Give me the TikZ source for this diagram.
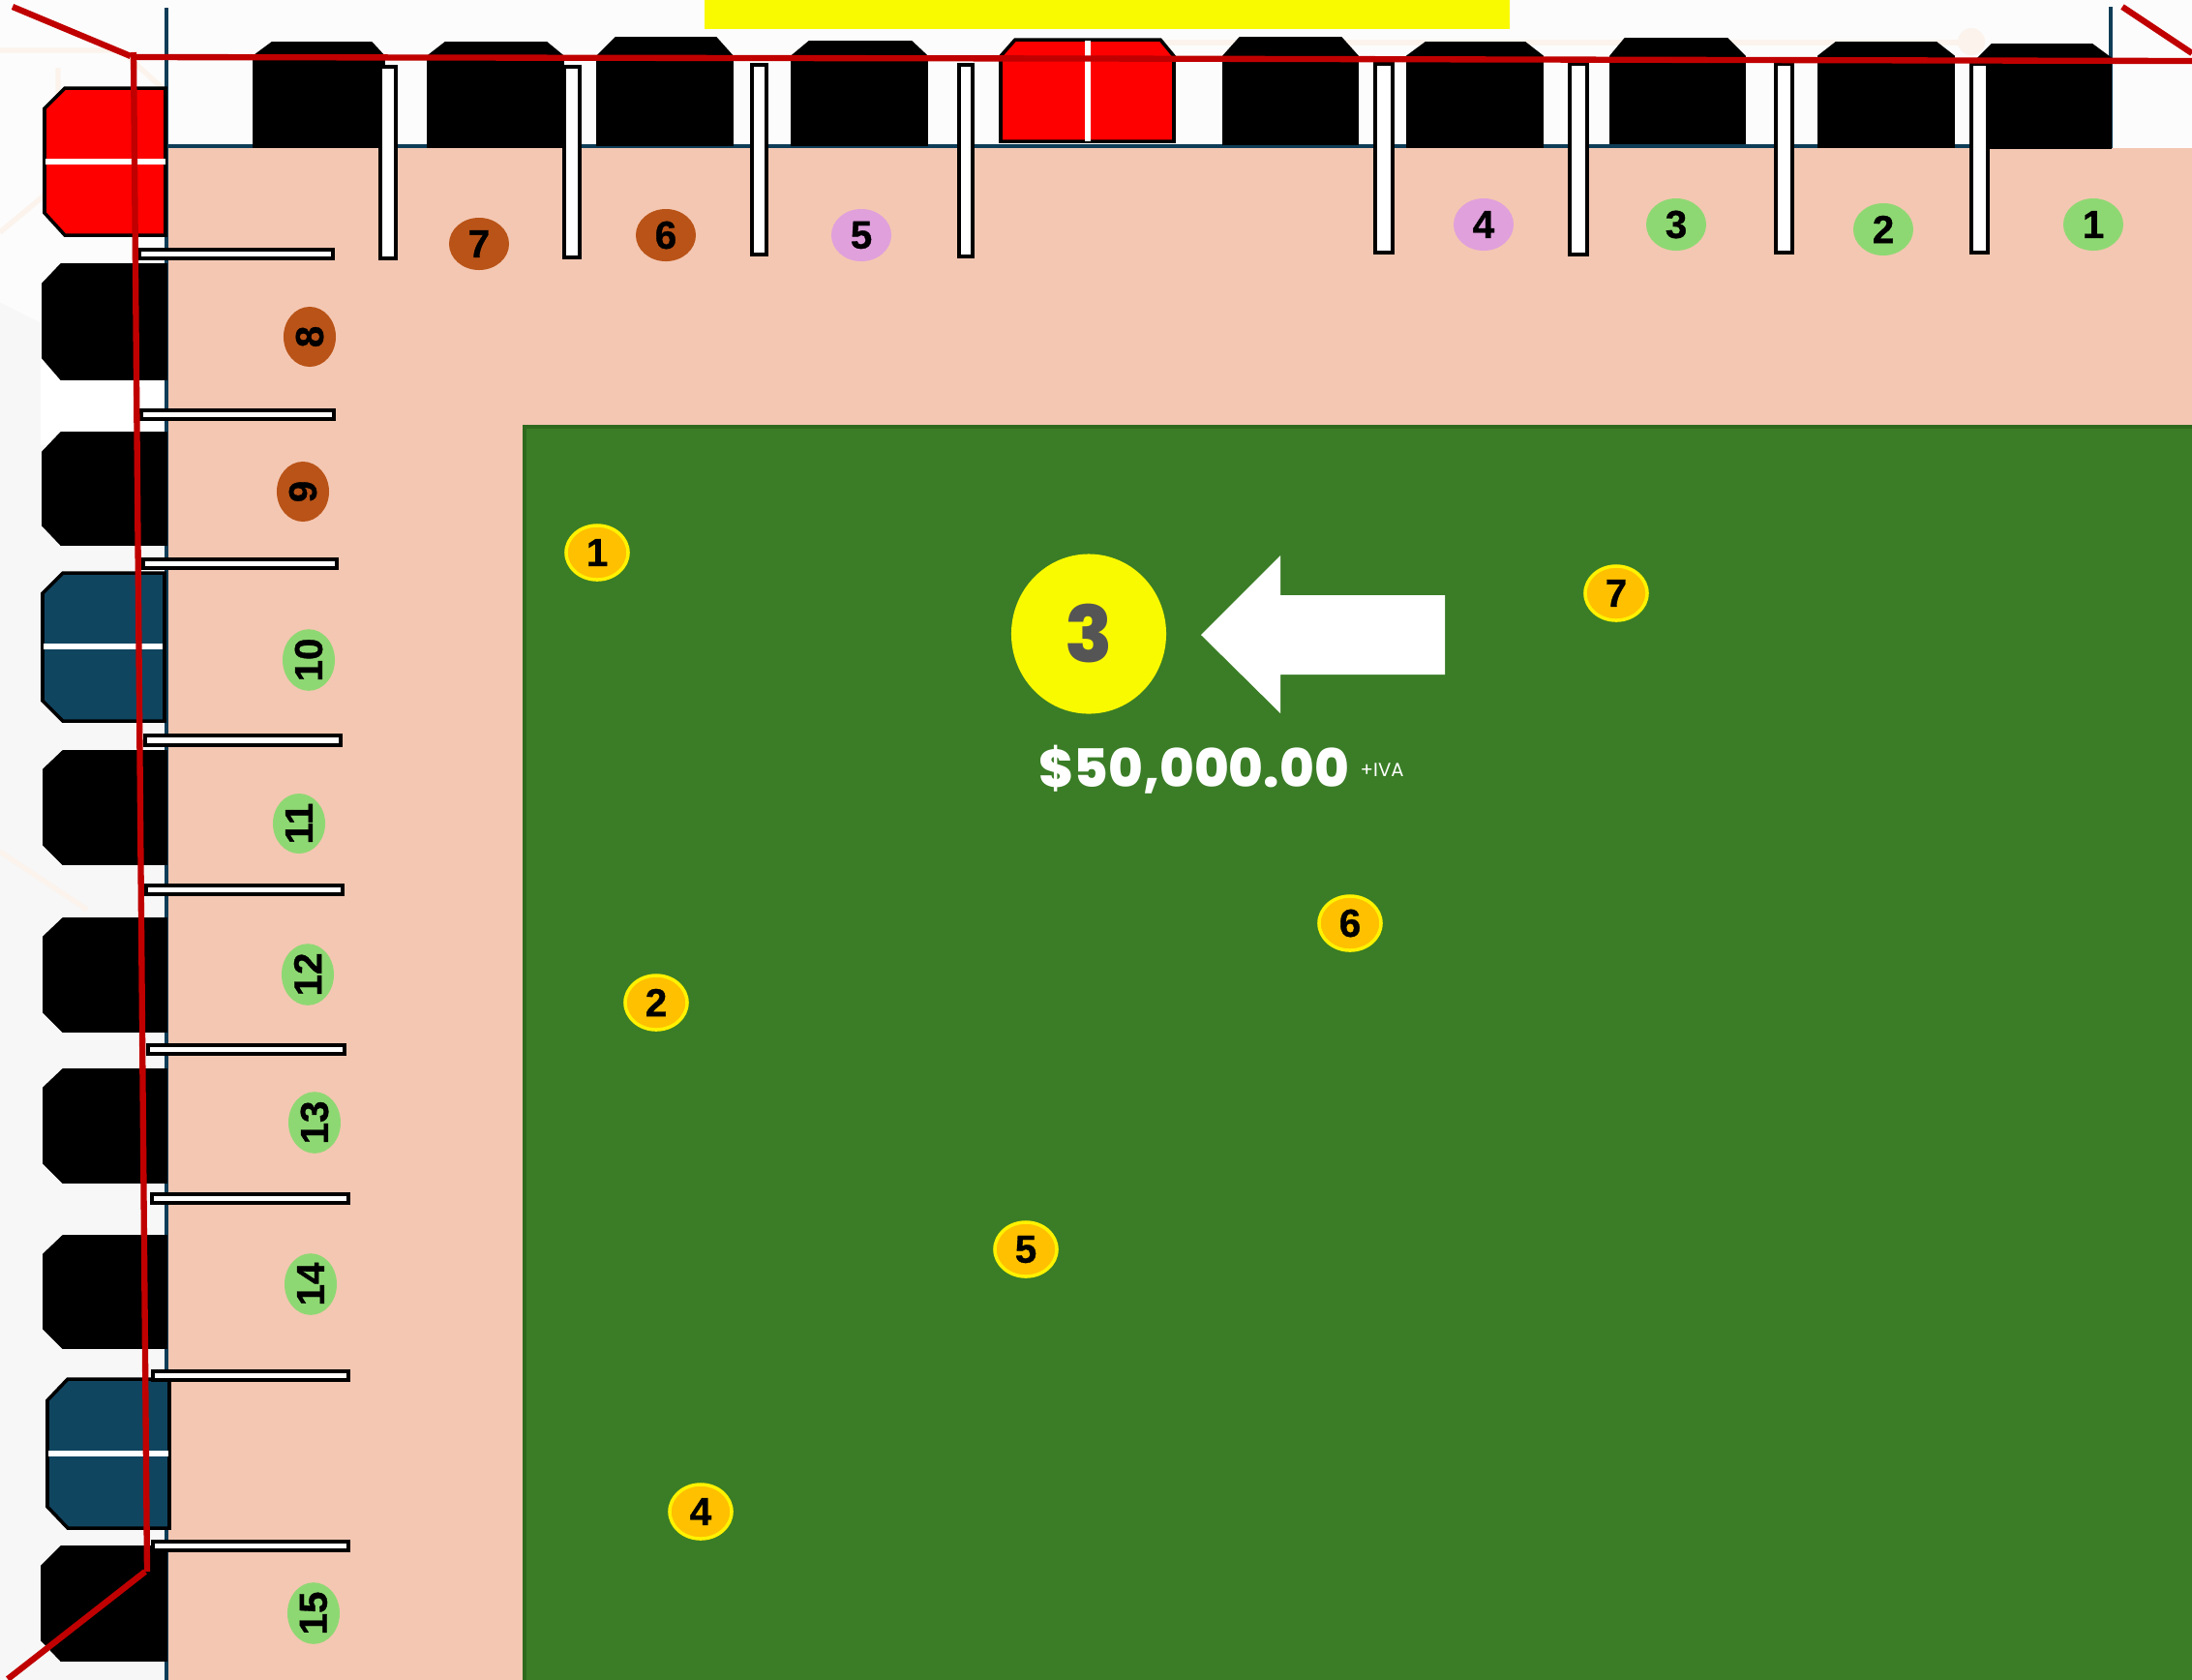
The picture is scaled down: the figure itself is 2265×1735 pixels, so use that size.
\documentclass[tikz,border=0pt]{standalone}
\usepackage{fontspec}
\usepackage{graphicx}
\setmainfont{Liberation Sans}
\newfontfamily\popblack{Poppins ExtraBold}
\newfontfamily\poplight{Poppins}
\newfontfamily\badgefont[BoldFeatures={FakeBold=0.8}]{Liberation Sans}
\usetikzlibrary{shapes.geometric}
\definecolor{pagebg}{HTML}{FCFCFC}
\definecolor{bgshade}{HTML}{F7F7F7}
\definecolor{bgline}{HTML}{FBF3EC}
\definecolor{walk}{HTML}{F4C7B2}
\definecolor{lawn}{HTML}{3A7D26}
\definecolor{lawnedge}{HTML}{2E6A1D}
\definecolor{navy}{HTML}{0F3D57}
\definecolor{navyfill}{HTML}{104560}
\definecolor{redline}{HTML}{C00000}
\definecolor{brownb}{HTML}{B95317}
\definecolor{pinkb}{HTML}{E0A0DC}
\definecolor{greenb}{HTML}{8ED873}
\definecolor{amber}{HTML}{FFC000}
\definecolor{sun}{HTML}{F9F900}
\definecolor{inkgrey}{HTML}{555555}
\tikzset{
  stallblack/.style={fill=black,draw=black,line width=0.5pt,line join=miter},
  stallred/.style={fill=red,draw=black,line width=1pt},
  stallnavy/.style={fill=navyfill,draw=black,line width=1pt},
  divider/.style={fill=white,draw=black,line width=1pt},
  sidedivider/.style={fill=white,draw=black,line width=1.2pt},
  redrun/.style={draw=redline,line width=1.8pt},
  navyrun/.style={draw=navy,line width=0.9pt},
  whitebar/.style={draw=white,line width=1.5pt},
  spotbase/.style={ellipse,inner sep=0pt,text=black,font=\badgefont\bfseries\fontsize{11.5}{12}\selectfont},
  spottop/.style={spotbase,minimum width=0.62cm,minimum height=0.54cm},
  spotside/.style={spotbase,minimum width=0.62cm,minimum height=0.54cm,rotate=90},
  lawnmark/.style={ellipse,inner sep=0pt,minimum width=0.64cm,minimum height=0.56cm,fill=amber,draw=yellow,line width=1pt,text=black,font=\badgefont\bfseries\fontsize{11.5}{12}\selectfont}
}
% stalls with a cut top: style, left, top, bottom, flat-left, flat-right, shoulder y, right
\def\topstall#1#2#3#4#5#6#7#8{\path[#1] (#2,#4) -- (#2,#7) -- (#5,#3) -- (#6,#3) -- (#8,#7) -- (#8,#4) -- cycle;}
% stalls with a cut left side: style, left, right, top, bottom, chamfer x, upper y, lower y
\def\sidestall#1#2#3#4#5#6#7#8{\path[#1] (#3,#4) -- (#6,#4) -- (#2,#7) -- (#2,#8) -- (#6,#5) -- (#3,#5) -- cycle;}
\begin{document}
\begin{tikzpicture}[x=0.01cm,y=-0.01cm]
\useasboundingbox (0,0) rectangle (2265,1735);
% page
\fill[pagebg] (-5,-5) rectangle (2270,1740);
\fill[bgshade] (-5,310) -- (172,400) -- (172,1740) -- (-5,1740) -- cycle;
\fill[white] (42,300) -- (172,300) -- (172,460) -- (42,460) -- cycle;
\draw[bgline,line width=1.5pt] (0,52) -- (125,52) -- (172,95);
\draw[bgline,line width=1.5pt] (0,240) -- (60,190) -- (60,70);
\draw[bgline,line width=1.5pt] (0,880) -- (90,940);
\draw[bgline,line width=1.5pt] (1180,44) -- (2030,44);
\fill[bgline] (2037,43) ellipse (14 and 14);
\fill[sun] (728,-5) rectangle (1560,30);
% ground
\fill[walk] (172,153) rectangle (2270,1740);
\fill[lawn] (542,441) rectangle (2270,1740);
\draw[lawnedge,line width=1pt] (542,1740) -- (542,441) -- (2270,441);
% navy edges
\draw[navyrun] (172,8) -- (172,1740);
\draw[navyrun] (172,151) -- (2181,151);
\draw[navyrun] (2181,7) -- (2181,153);
% top stalls
\topstall{stallblack}{262}{44}{152}{281}{384}{58}{397}
\topstall{stallblack}{442}{44}{152}{460}{565}{58}{582}
\topstall{stallblack}{617}{39}{150}{636}{740}{58}{757}
\topstall{stallblack}{818}{43}{150}{836}{942}{58}{958}
\topstall{stallblack}{1264}{39}{149}{1281}{1386}{58}{1403}
\topstall{stallblack}{1454}{44}{152}{1473}{1576}{58}{1594}
\topstall{stallblack}{1664}{40}{148}{1679}{1785}{58}{1803}
\topstall{stallblack}{1879}{44}{152}{1897}{2001}{58}{2019}
\topstall{stallblack}{2044}{46}{153}{2058}{2162}{60}{2181}
\topstall{stallred}{1034}{41}{146}{1049}{1199}{58}{1213}
\draw[whitebar] (1124,42) -- (1124,146);
% left stalls
\sidestall{stallred}{46}{171}{91}{243}{67}{112}{220}
\draw[whitebar] (47,167) -- (171,167);
\sidestall{stallblack}{44}{172}{273}{392}{63}{293}{370}
\sidestall{stallblack}{44}{172}{447}{563}{63}{467}{543}
\sidestall{stallnavy}{44}{170}{592}{745}{65}{613}{724}
\draw[whitebar] (45,668) -- (168,668);
\sidestall{stallblack}{45}{172}{776}{893}{65}{795}{873}
\sidestall{stallblack}{45}{172}{949}{1066}{65}{968}{1046}
\sidestall{stallblack}{45}{172}{1105}{1222}{65}{1124}{1202}
\sidestall{stallblack}{45}{172}{1277}{1393}{65}{1296}{1373}
\sidestall{stallnavy}{49}{175}{1425}{1579}{70}{1447}{1557}
\draw[whitebar] (50,1502) -- (174,1502);
\sidestall{stallblack}{43}{172}{1598}{1716}{63}{1618}{1695}
% top dividers
\draw[divider] (393,69) rectangle (409,267);
\draw[divider] (583,69) rectangle (599,266);
\draw[divider] (777,67) rectangle (792,263);
\draw[divider] (991,67) rectangle (1005,265);
\draw[divider] (1421,66) rectangle (1439,261);
\draw[divider] (1622,66) rectangle (1640,263);
\draw[divider] (1835,66) rectangle (1852,261);
\draw[divider] (2037,66) rectangle (2054,261);
% left dividers
\draw[sidedivider] (144,258) rectangle (344,267);
\draw[sidedivider] (146,424) rectangle (345,433);
\draw[sidedivider] (148,578) rectangle (348,587);
\draw[sidedivider] (150,760) rectangle (352,770);
\draw[sidedivider] (151,915) rectangle (354,924);
\draw[sidedivider] (153,1080) rectangle (356,1089);
\draw[sidedivider] (157,1234) rectangle (360,1243);
\draw[sidedivider] (158,1417) rectangle (360,1426);
\draw[sidedivider] (158,1593) rectangle (360,1602);
% red site outline
\draw[redrun] (13,7) -- (135,58);
\draw[redrun] (137,59) -- (1124,60.5) -- (2265,63);
\draw[redrun] (2193,7) -- (2265,55);
\draw[redrun] (138,54) -- (152,1624);
\draw[redrun] (150,1624) -- (8,1735);
% numbered spots, top row
\foreach \nm/\px/\py/\col/\lab in {a/2163/232/greenb/1,b/1946/237/greenb/2,c/1732/232/greenb/3,d/1533/232/pinkb/4,e/890/243/pinkb/5,f/688/243/brownb/6,g/495/252/brownb/7}
  \node[spottop,fill=\col] (top\nm) at (\px,\py) {\raisebox{-0.3pt}{\lab}};
% numbered spots, left column
\foreach \nm/\px/\py/\col/\lab in {h/320/348/brownb/8,i/313/508/brownb/9,j/319/682/greenb/10,k/309/851/greenb/11,l/318/1007/greenb/12,m/325/1160/greenb/13,n/321/1327/greenb/14,o/324/1667/greenb/15}
  \node[spotside,fill=\col] (side\nm) at (\px,\py) {\raisebox{-0.3pt}{\lab}};
% numbered marks on the lawn
\foreach \nm/\px/\py/\lab in {p/617/571/1,q/678/1036/2,r/724/1562/4,s/1060/1291/5,t/1395/954/6,u/1670/613/7}
  \node[lawnmark] (mark\nm) at (\px,\py) {\raisebox{-0.3pt}{\lab}};
% featured lot
\node[ellipse,inner sep=0pt,minimum width=1.60cm,minimum height=1.65cm,fill=sun,text=inkgrey,font=\popblack\fontsize{23}{23}\selectfont] (lotbig) at (1125,655) {3};
\path[fill=white] (1241,656) -- (1323,574) -- (1323,615) -- (1493,615) -- (1493,697) -- (1323,697) -- (1323,737) -- cycle;
\node[anchor=base west,inner sep=0pt,text=white,font=\popblack\fontsize{15.5}{16}\selectfont] (price) at (1073,813) {\$50,000.00};
\node[anchor=base west,inner sep=0pt,text=white,font=\poplight\fontsize{5.6}{6}\selectfont] (tax) at (1405,802) {+IVA};
\end{tikzpicture}
\end{document}
